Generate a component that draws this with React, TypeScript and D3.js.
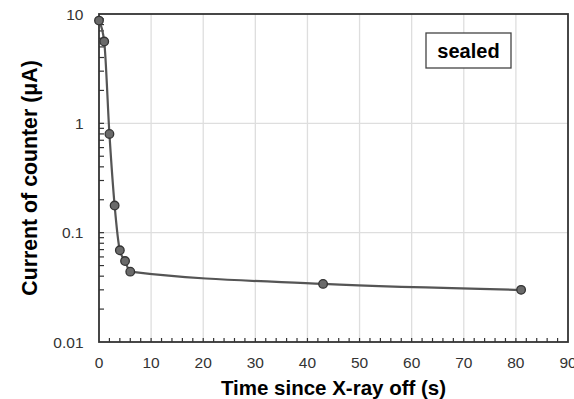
import React, { useRef, useEffect } from 'react';
import * as d3 from 'd3';

// readings
const timeSec = [0, 1, 2, 3, 4, 5, 6, 43, 81];
const currentUA = [8.7, 5.6, 0.8, 0.177, 0.069, 0.055, 0.044, 0.034, 0.03];
const xTicks = [0, 10, 20, 30, 40, 50, 60, 70, 80, 90];
const yTicks = [0.01, 0.1, 1, 10];
const yTickLabels = ['0.01', '0.1', '1', '10'];

const W = 574;
const H = 399;

const App = () => {
  const svgRef = useRef<SVGSVGElement>(null);
  const margin = { top: 14, right: 6, bottom: 57, left: 99 };

  useEffect(() => {
    const svg = d3.select(svgRef.current);
    svg.selectAll('*').remove();

    const x = d3.scaleLinear().domain([0, 90]).range([margin.left, W - margin.right]);
    const y = d3.scaleLog().domain([0.01, 10]).range([H - margin.bottom, margin.top]);
    const font = 'Liberation Sans, Arial, sans-serif';

    // grid
    svg.append('g')
      .selectAll('line')
      .data(xTicks.slice(1, -1))
      .enter()
      .append('line')
      .attr('x1', d => x(d)).attr('x2', d => x(d))
      .attr('y1', y(10)).attr('y2', y(0.01))
      .attr('stroke', '#dedede').attr('stroke-width', 1.3);
    svg.append('g')
      .selectAll('line')
      .data([0.1, 1])
      .enter()
      .append('line')
      .attr('x1', x(0)).attr('x2', x(90))
      .attr('y1', d => y(d)).attr('y2', d => y(d))
      .attr('stroke', '#dedede').attr('stroke-width', 1.3);

    // minor ticks
    const xMinor = d3.range(2, 90, 2).filter(d => d % 10 !== 0);
    svg.append('g')
      .selectAll('line')
      .data(xMinor.concat(xTicks.slice(1, -1)))
      .enter()
      .append('line')
      .attr('x1', d => x(d)).attr('x2', d => x(d))
      .attr('y1', y(0.01)).attr('y2', y(0.01) - 4)
      .attr('stroke', '#333').attr('stroke-width', 1.2);

    const yMinor: number[] = [];
    [0.01, 0.1, 1].forEach(dec => {
      for (let k = 2; k <= 9; k++) yMinor.push(dec * k);
    });
    svg.append('g')
      .selectAll('line')
      .data(yMinor.concat([0.1, 1]))
      .enter()
      .append('line')
      .attr('x1', x(0)).attr('x2', x(0) + 5)
      .attr('y1', d => y(d)).attr('y2', d => y(d))
      .attr('stroke', '#333').attr('stroke-width', 1.2);

    // frame
    svg.append('rect')
      .attr('x', x(0)).attr('y', y(10))
      .attr('width', x(90) - x(0)).attr('height', y(0.01) - y(10))
      .attr('fill', 'none').attr('stroke', '#333').attr('stroke-width', 1.8);

    // tick labels
    svg.append('g')
      .selectAll('text')
      .data(xTicks)
      .enter()
      .append('text')
      .attr('x', d => x(d))
      .attr('y', y(0.01) + 26)
      .attr('text-anchor', 'middle')
      .attr('font-family', font).attr('font-size', 15.5).attr('fill', '#333')
      .text(d => d);
    svg.append('g')
      .selectAll('text')
      .data(yTicks)
      .enter()
      .append('text')
      .attr('x', x(0) - 15.5)
      .attr('y', d => y(d) + 5.5)
      .attr('text-anchor', 'end')
      .attr('font-family', font).attr('font-size', 15.5).attr('fill', '#333')
      .text((d, i) => yTickLabels[i]);

    // axis titles
    svg.append('text')
      .attr('x', (x(0) + x(90)) / 2)
      .attr('y', 395)
      .attr('text-anchor', 'middle')
      .attr('font-family', font).attr('font-size', 20.5).attr('font-weight', 'bold')
      .text('Time since X-ray off (s)');
    svg.append('text')
      .attr('transform', `translate(37,${(y(10) + y(0.01)) / 2}) rotate(-90)`)
      .attr('text-anchor', 'middle')
      .attr('font-family', font).attr('font-size', 21.3).attr('font-weight', 'bold')
      .text('Current of counter (μA)');

    // curve + markers
    const pts = timeSec.map((t, i) => [x(t), y(currentUA[i])] as [number, number]);
    const line = d3.line().curve(d3.curveMonotoneX);
    svg.append('path')
      .attr('d', line(pts))
      .attr('fill', 'none').attr('stroke', '#555').attr('stroke-width', 2.2);
    svg.append('g')
      .selectAll('circle')
      .data(pts)
      .enter()
      .append('circle')
      .attr('cx', d => d[0]).attr('cy', d => d[1]).attr('r', 4.3)
      .attr('fill', '#6a6a6a').attr('stroke', '#333').attr('stroke-width', 1.3);

    // legend box
    const bx = 426, by = 33;
    svg.append('rect')
      .attr('x', bx).attr('y', by).attr('width', 85).attr('height', 35)
      .attr('fill', '#fff').attr('stroke', '#444').attr('stroke-width', 1.3);
    svg.append('text')
      .attr('x', bx + 42.5).attr('y', by + 24.5)
      .attr('text-anchor', 'middle')
      .attr('font-family', font).attr('font-size', 20).attr('font-weight', 'bold')
      .text('sealed');
  }, []);

  return (
    <svg ref={svgRef} width={W} height={H} style={{ position: 'absolute', left: 0, top: 0 }} />
  );
};

export default App;
